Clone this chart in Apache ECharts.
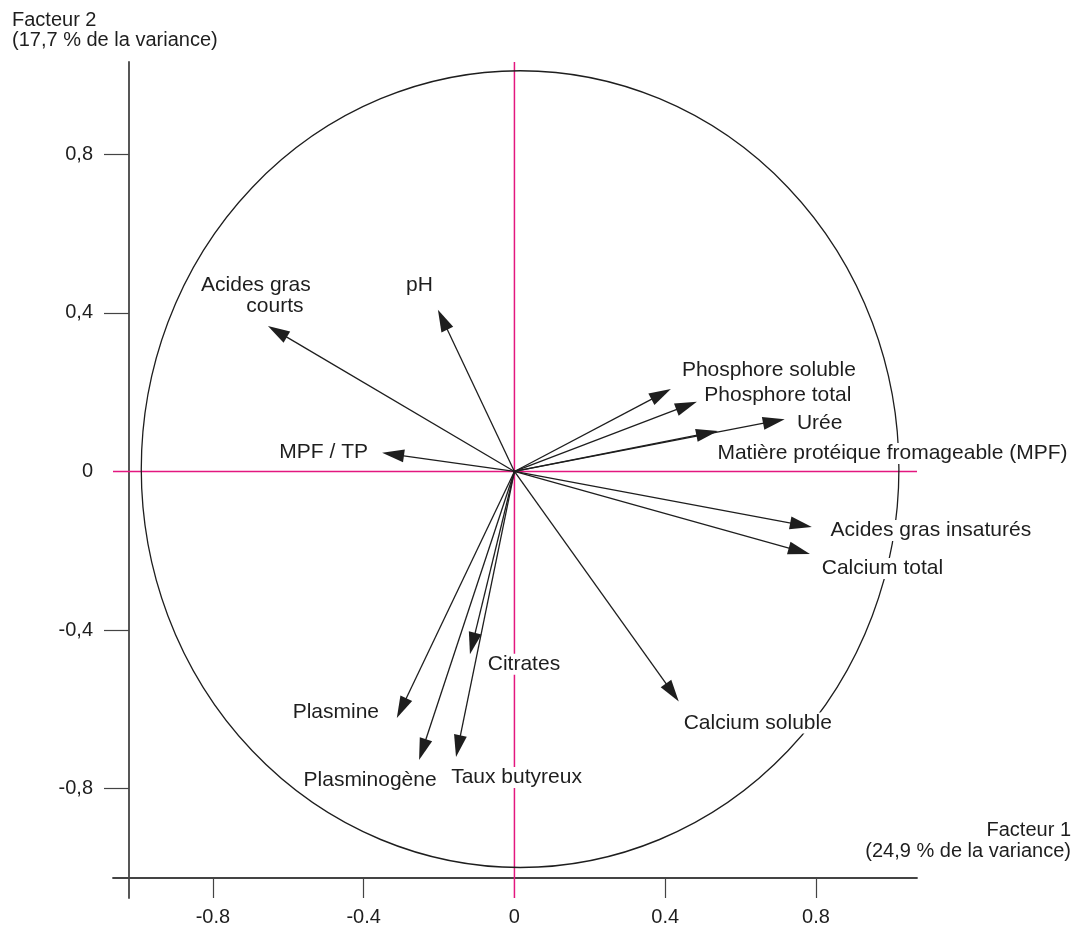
<!DOCTYPE html>
<html>
<head>
<meta charset="utf-8">
<script src="https://cdn.jsdelivr.net/npm/echarts@6/dist/echarts.min.js"></script>
<style>
  html, body { margin: 0; padding: 0; background: #ffffff; }
  #chart { width: 1074px; height: 927px; }
</style>
</head>
<body>
<div id="chart"></div>
<script>
// Correlation circle: loadings of each variable on factor 1 and factor 2
const variables = [
  'Acides gras\ncourts',
  'pH',
  'MPF / TP',
  'Phosphore soluble',
  'Phosphore total',
  'Urée',
  'Matière protéique fromageable (MPF)',
  'Acides gras insaturés',
  'Calcium total',
  'Calcium soluble',
  'Citrates',
  'Plasmine',
  'Plasminogène',
  'Taux butyreux'
];
const factor1 = [-0.654, -0.203, -0.351, 0.415, 0.484, 0.717, 0.540, 0.789, 0.784, 0.436, -0.118, -0.312, -0.253, -0.155];
const factor2 = [0.367, 0.408, 0.047, 0.208, 0.176, 0.132, 0.102, -0.140, -0.208, -0.580, -0.461, -0.622, -0.728, -0.720];

const xTickValues = [-0.8, -0.4, 0, 0.4, 0.8];
const yTickValues = [-0.8, -0.4, 0, 0.4, 0.8];

const xAxisName = ['Facteur 1', '(24,9 % de la variance)'];
const yAxisName = ['Facteur 2', '(17,7 % de la variance)'];

// unit correlation circle (centre x, centre y, radius)
const circle = [0.015, 0.006, 1.005];

// axis extents
const X_MIN = -1.065, X_MAX = 1.068;
const Y_MIN = -1.076, Y_MAX = 1.033;

// label placement relative to each arrow tip, one [dx, dy] per text line (pixels)
const labelOffsets = [
  [[-12, -40.5], [7, -19.5]],
  [[-18.5, -24.5]],
  [[-58.5, -0.5]],
  [[98, -18.5]],
  [[81, -6.5]],
  [[35, 4.5]],
  [[174.5, 22.5]],
  [[119, 3.5]],
  [[72.5, 14.5]],
  [[79, 21.5]],
  [[54, 10]],
  [[-61, -5.5]],
  [[-49, 20.5]],
  [[60.5, 20.5]]
];

const INK = '#1e1e1e';
const AXIS = '#444444';
const MAGENTA = '#e3177f';
const FONT = '"Liberation Sans", Arial, Helvetica, sans-serif';
const HEAD_LEN = 22, HEAD_HALF = 6.5;

const points = factor1.map((x, i) => [x, factor2[i], i]);

const chart = echarts.init(document.getElementById('chart'), null, { renderer: 'canvas' });

chart.setOption({
  animation: false,
  backgroundColor: '#ffffff',
  grid: { left: 113, right: 157, top: 62, bottom: 29, containLabel: false },
  xAxis: {
    type: 'value',
    min: X_MIN,
    max: X_MAX,
    position: 'bottom',
    offset: -20,
    axisLine: { onZero: false, lineStyle: { color: AXIS, width: 1.8 } },
    axisTick: {
      show: true, inside: false, length: 20,
      customValues: xTickValues.filter(v => v !== 0),
      lineStyle: { color: AXIS, width: 1.2 }
    },
    axisLabel: {
      customValues: xTickValues,
      margin: 29,
      fontFamily: FONT,
      fontSize: 20,
      color: v => (v === 0 ? MAGENTA : INK),
      formatter: v => (v === 0 ? '0' : v.toFixed(1))
    },
    splitLine: { show: false }
  },
  yAxis: {
    type: 'value',
    min: Y_MIN,
    max: Y_MAX,
    position: 'left',
    offset: -16,
    axisLine: { onZero: false, lineStyle: { color: AXIS, width: 1.8 } },
    axisTick: {
      show: true, inside: false, length: 25,
      customValues: yTickValues.filter(v => v !== 0),
      lineStyle: { color: AXIS, width: 1.2 }
    },
    axisLabel: {
      customValues: yTickValues,
      margin: 36,
      fontFamily: FONT,
      fontSize: 20,
      color: v => (v === 0 ? MAGENTA : INK),
      formatter: v => (v === 0 ? '0' : v.toFixed(1).replace('.', ','))
    },
    splitLine: { show: false }
  },
  graphic: [
    {
      type: 'text', x: 12, y: 10, z: 100,
      style: { text: yAxisName.join('\n'), font: '20px ' + FONT, fill: INK, lineHeight: 20 }
    },
    {
      type: 'text', x: 1071, y: 820, z: 100,
      style: { text: xAxisName.join('\n'), font: '20px ' + FONT, fill: INK, lineHeight: 21, align: 'right' }
    }
  ],
  series: [
    {
      // horizontal zero line
      type: 'line', data: [[X_MIN, 0], [X_MAX, 0]], symbol: 'none', silent: true, z: 1,
      lineStyle: { color: MAGENTA, width: 1.5 }
    },
    {
      // vertical zero line
      type: 'line', data: [[0, Y_MAX], [0, Y_MIN]], symbol: 'none', silent: true, z: 1,
      lineStyle: { color: MAGENTA, width: 1.5 }
    },
    {
      // correlation circle
      type: 'custom', coordinateSystem: 'cartesian2d', silent: true, z: 2, clip: false,
      data: [circle],
      renderItem: (params, api) => {
        const c = api.coord([api.value(0), api.value(1)]);
        const s = api.size([api.value(2), api.value(2)]);
        return {
          type: 'circle', x: c[0], y: c[1], scaleY: s[1] / s[0],
          shape: { cx: 0, cy: 0, r: s[0] },
          style: { fill: 'none', stroke: INK, lineWidth: 1.3 }
        };
      }
    },
    {
      // variable arrows
      type: 'custom', coordinateSystem: 'cartesian2d', silent: true, z: 3, clip: false,
      data: points,
      renderItem: (params, api) => {
        const o = api.coord([0, 0]);
        const t = api.coord([api.value(0), api.value(1)]);
        const dx = t[0] - o[0], dy = t[1] - o[1];
        const len = Math.hypot(dx, dy);
        const ux = dx / len, uy = dy / len;
        const bx = t[0] - ux * HEAD_LEN, by = t[1] - uy * HEAD_LEN;
        const px = -uy * HEAD_HALF, py = ux * HEAD_HALF;
        return {
          type: 'group',
          children: [
            { type: 'line', shape: { x1: o[0], y1: o[1], x2: bx + ux * 2, y2: by + uy * 2 },
              style: { stroke: INK, lineWidth: 1.3 } },
            { type: 'polygon', shape: { points: [[t[0], t[1]], [bx + px, by + py], [bx - px, by - py]] },
              style: { fill: INK } }
          ]
        };
      }
    },
    {
      // variable names
      type: 'custom', coordinateSystem: 'cartesian2d', silent: true, z: 10, clip: false,
      data: points,
      renderItem: (params, api) => {
        const i = api.value(2);
        const t = api.coord([api.value(0), api.value(1)]);
        const lines = variables[i].split('\n');
        return {
          type: 'group',
          children: lines.map((line, k) => ({
            type: 'text',
            x: t[0] + labelOffsets[i][k][0],
            y: t[1] + labelOffsets[i][k][1],
            style: {
              text: line, font: '21px ' + FONT, fill: INK,
              align: 'center', verticalAlign: 'middle',
              backgroundColor: '#ffffff', padding: [0, 3]
            }
          }))
        };
      }
    }
  ]
});
</script>
</body>
</html>
